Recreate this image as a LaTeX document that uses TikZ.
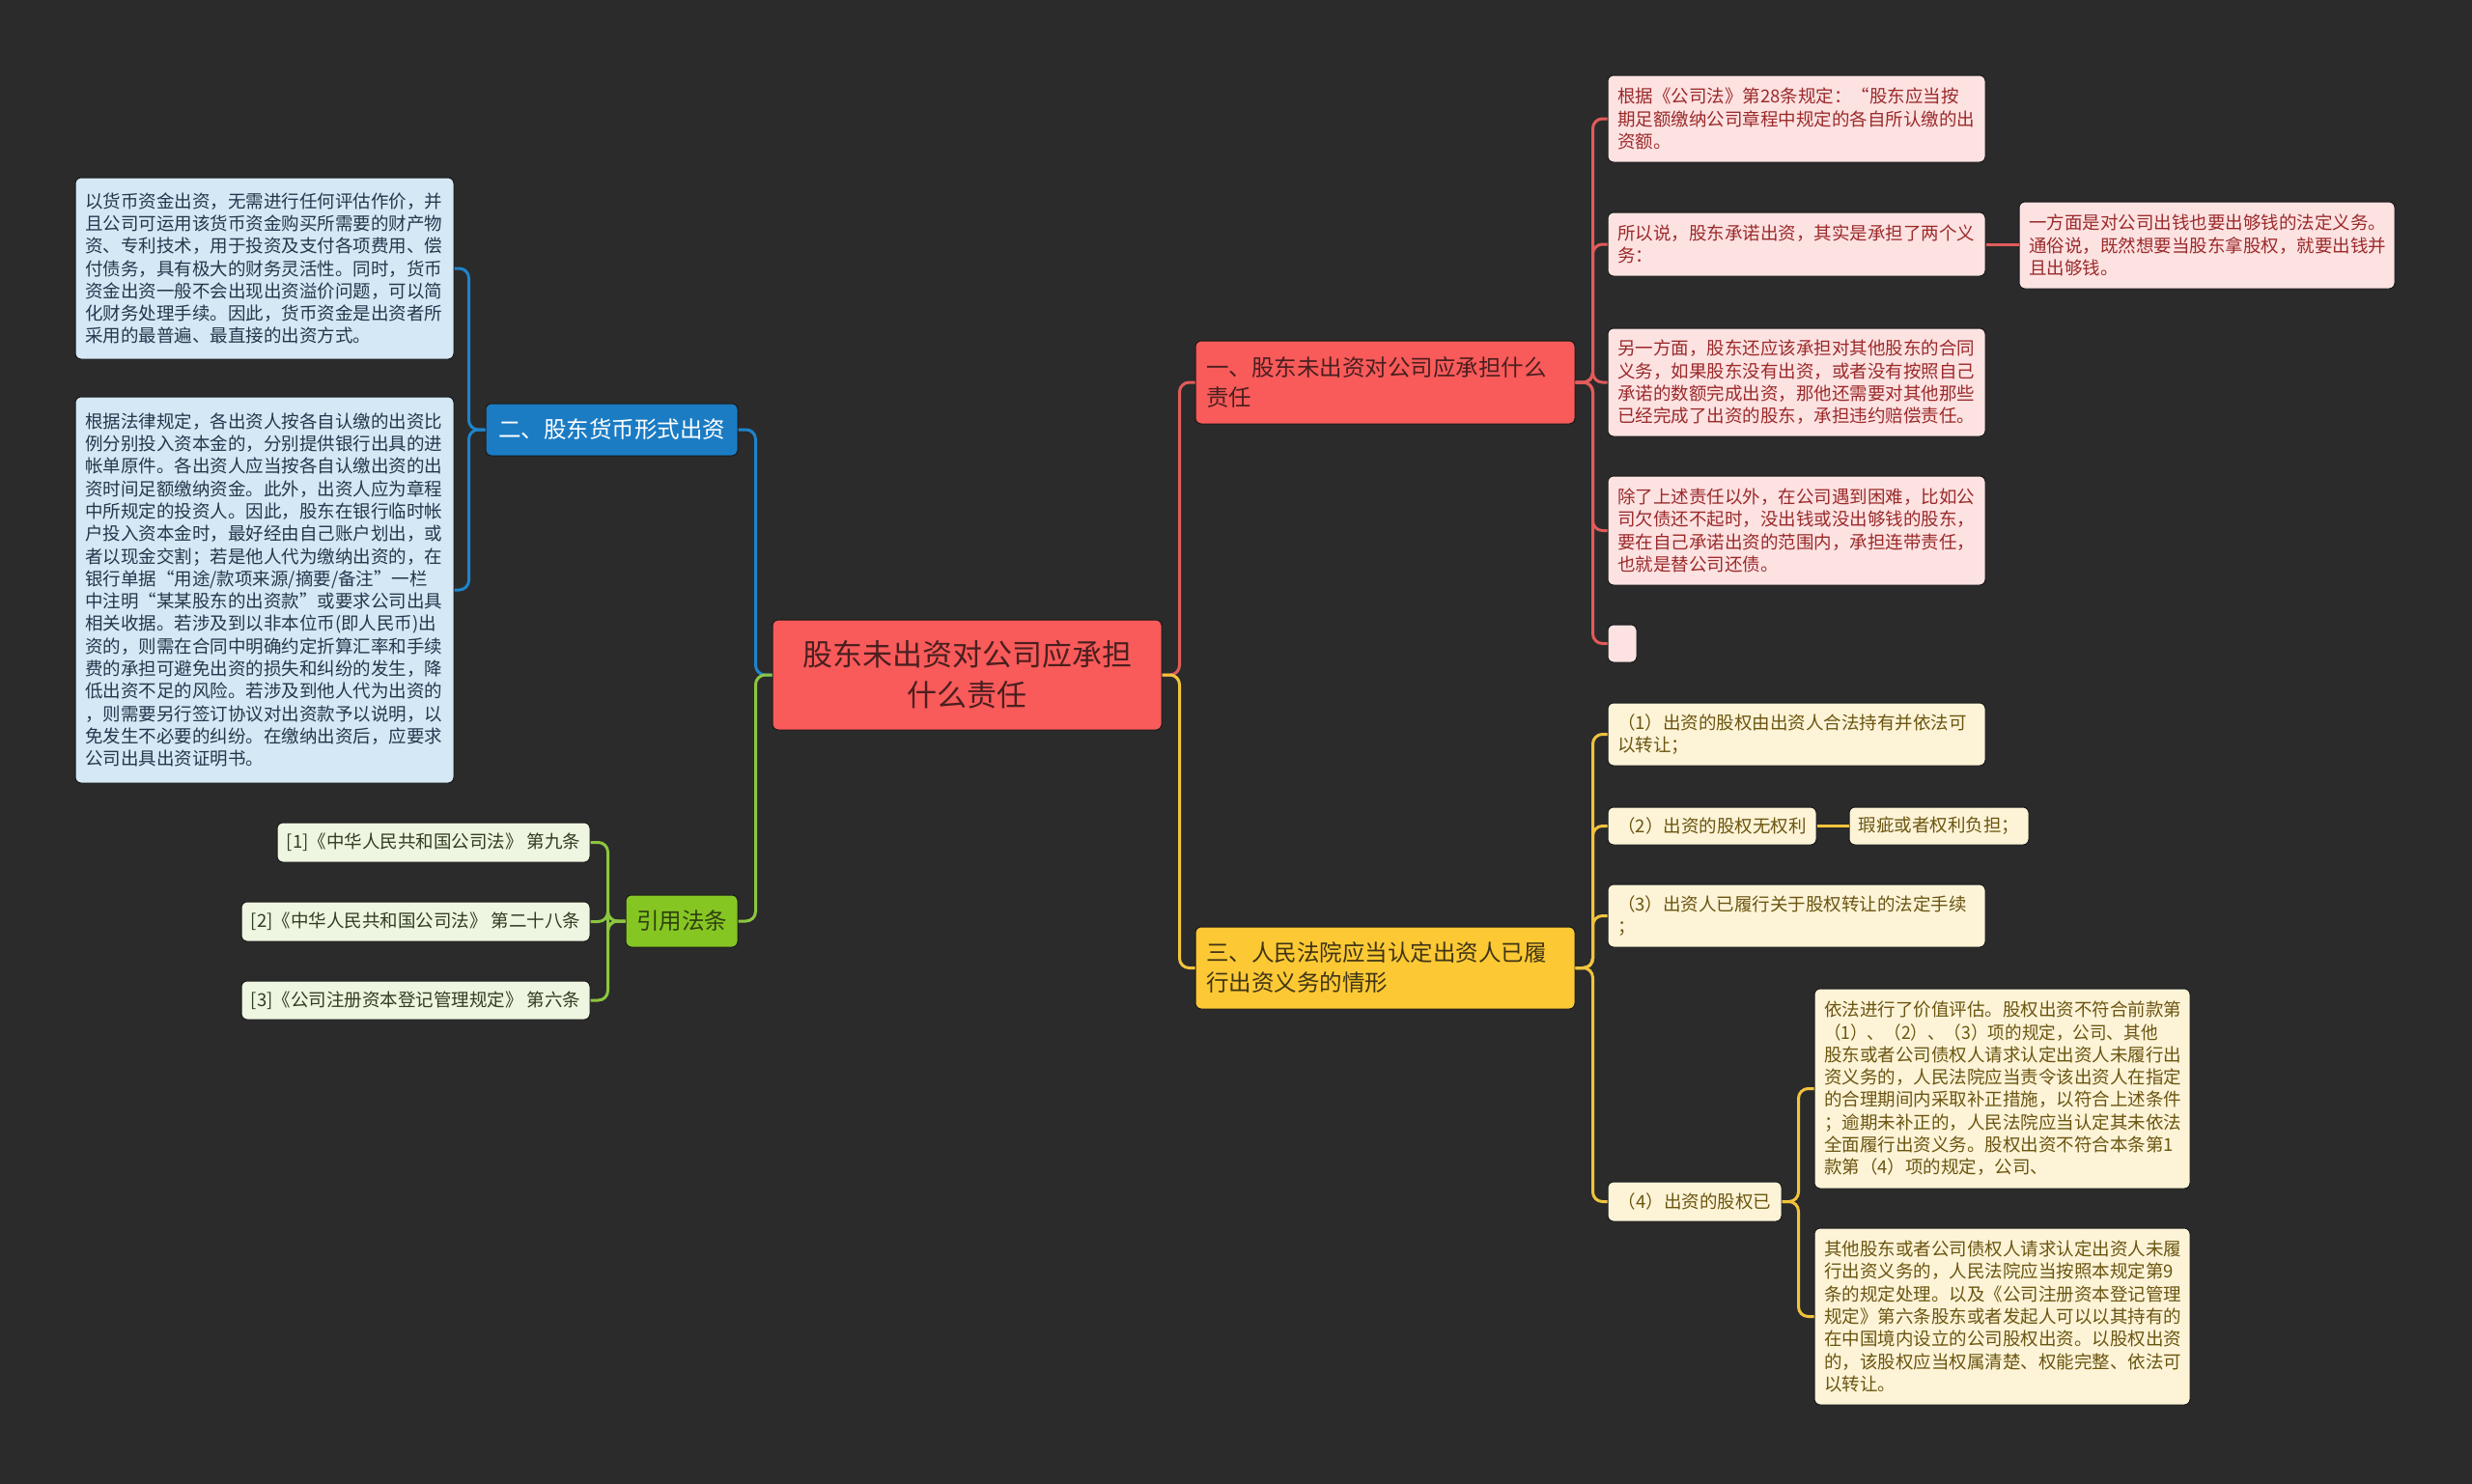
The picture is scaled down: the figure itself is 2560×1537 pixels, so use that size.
\documentclass[tikz,border=0pt]{standalone}
\usepackage{fontspec}
\setmainfont{Noto Sans CJK SC}
\definecolor{bg}{HTML}{2B2B2B}
\definecolor{boxline}{HTML}{1A1A1A}
\definecolor{mainred}{HTML}{F95A5A}
\definecolor{redtxt}{HTML}{4A1F1F}
\definecolor{pinkf}{HTML}{FDE2E2}
\definecolor{pinkt}{HTML}{9B2A2A}
\definecolor{bluef}{HTML}{1B7CC4}
\definecolor{lbluef}{HTML}{D5E8F5}
\definecolor{lbluet}{HTML}{23384D}
\definecolor{grnf}{HTML}{86C623}
\definecolor{grnt}{HTML}{2F4010}
\definecolor{lgrnf}{HTML}{EEF5E0}
\definecolor{lgrnt}{HTML}{303D22}
\definecolor{yelf}{HTML}{FCC935}
\definecolor{yelt}{HTML}{3F3414}
\definecolor{creamf}{HTML}{FDF4D8}
\definecolor{creamt}{HTML}{6B5510}
\definecolor{redc}{HTML}{E25B5B}
\definecolor{yelc}{HTML}{F2C43D}
\definecolor{bluec}{HTML}{1E84CC}
\definecolor{grnc}{HTML}{8CC63F}
\begin{document}
\begin{tikzpicture}[x=1pt,y=-1pt,
  box/.style={draw=boxline, line width=1pt, rounded corners=6pt, inner xsep=10pt, inner ysep=0pt, font=\fontsize{18.5}{23.3}\selectfont},
  bigbox/.style={box, font=\fontsize{23.5}{31}\selectfont, inner xsep=11pt},
  redleaf/.style={box, fill=pinkf, text=pinkt},
  yelleaf/.style={box, fill=creamf, text=creamt},
  blueleaf/.style={box, fill=lbluef, text=lbluet},
  grnleaf/.style={box, fill=lgrnf, text=lgrnt},
  conn/.style={line width=3pt, rounded corners=10pt},
  redline/.style={conn, draw=redc},
  yelline/.style={conn, draw=yelc},
  blueline/.style={conn, draw=bluec},
  grnline/.style={conn, draw=grnc}
]
\useasboundingbox (0,0) rectangle (2560,1537);
\fill[bg] (0,0) rectangle (2560,1537);

% central
\node[box, fill=mainred, text=redtxt, font=\fontsize{31}{42}\selectfont, minimum width=403pt, minimum height=114pt, text width=383pt, align=center] (c) at (1001.5,699) {股东未出资对公司应承担\\什么责任};

% branches
\node[bigbox, fill=mainred, text=redtxt, minimum width=393pt, minimum height=86pt, text width=371pt, align=left] (rb) at (1434.5,396) {一、股东未出资对公司应承担什么\\责任};
\node[bigbox, fill=yelf, text=yelt, minimum width=393pt, minimum height=85pt, text width=371pt, align=left] (yb) at (1434.5,1002.5) {三、人民法院应当认定出资人已履\\行出资义务的情形};
\node[bigbox, fill=bluef, text=white, minimum width=261pt, minimum height=54pt, inner xsep=8pt] (bb) at (633.5,445) {二、股东货币形式出资};
\node[bigbox, fill=grnf, text=grnt, minimum width=116pt, minimum height=54pt, inner xsep=8pt] (gb) at (706,954) {引用法条};

% red leaves
\node[redleaf, minimum width=391pt, minimum height=90pt, text width=371pt, align=left] (r1) at (1860.5,123) {根据《公司法》第28条规定：“股东应当按\\期足额缴纳公司章程中规定的各自所认缴的出\\资额。};
\node[redleaf, minimum width=391pt, minimum height=66pt, text width=371pt, align=left] (r2) at (1860.5,253) {所以说，股东承诺出资，其实是承担了两个义\\务：};
\node[redleaf, minimum width=389pt, minimum height=90pt, text width=369pt, align=left] (r2a) at (2285.5,254) {一方面是对公司出钱也要出够钱的法定义务。\\通俗说，既然想要当股东拿股权，就要出钱并\\且出够钱。};
\node[redleaf, minimum width=391pt, minimum height=112pt, text width=371pt, align=left] (r3) at (1860.5,396) {另一方面，股东还应该承担对其他股东的合同\\义务，如果股东没有出资，或者没有按照自己\\承诺的数额完成出资，那他还需要对其他那些\\已经完成了出资的股东，承担违约赔偿责任。};
\node[redleaf, minimum width=391pt, minimum height=113pt, text width=371pt, align=left] (r4) at (1860.5,549.5) {除了上述责任以外，在公司遇到困难，比如公\\司欠债还不起时，没出钱或没出够钱的股东，\\要在自己承诺出资的范围内，承担连带责任，\\也就是替公司还债。};
\node[redleaf, minimum width=30pt, minimum height=39pt, inner sep=0pt] (r5) at (1680,666.5) {};

% yellow leaves
\node[yelleaf, minimum width=391pt, minimum height=65pt, text width=371pt, align=left] (y1) at (1860.5,760.5) {（1）出资的股权由出资人合法持有并依法可\\以转让；};
\node[yelleaf, minimum width=216pt, minimum height=39pt, inner xsep=6pt] (y2) at (1773,855.5) {（2）出资的股权无权利};
\node[yelleaf, minimum width=186pt, minimum height=39pt, inner xsep=8pt] (y2a) at (2008,855.5) {瑕疵或者权利负担；};
\node[yelleaf, minimum width=391pt, minimum height=65pt, text width=371pt, align=left] (y3) at (1860.5,948.5) {（3）出资人已履行关于股权转让的法定手续\\；};
\node[yelleaf, minimum width=180pt, minimum height=41pt, inner xsep=6pt] (y4) at (1755,1244.5) {（4）出资的股权已};
\node[yelleaf, minimum width=389pt, minimum height=207pt, text width=369pt, align=left] (y4a) at (2073.5,1127.5) {依法进行了价值评估。股权出资不符合前款第\\\scalebox{0.95}[1]{（1）、（2）、（3）项的规定，公司、其他}\\股东或者公司债权人请求认定出资人未履行出\\资义务的，人民法院应当责令该出资人在指定\\的合理期间内采取补正措施，以符合上述条件\\；逾期未补正的，人民法院应当认定其未依法\\全面履行出资义务。股权出资不符合本条第1\\款第（4）项的规定，公司、};
\node[yelleaf, minimum width=389pt, minimum height=183pt, text width=369pt, align=left] (y4b) at (2073.5,1363.5) {其他股东或者公司债权人请求认定出资人未履\\行出资义务的，人民法院应当按照本规定第9\\条的规定处理。以及《公司注册资本登记管理\\规定》第六条股东或者发起人可以以其持有的\\在中国境内设立的公司股权出资。以股权出资\\的，该股权应当权属清楚、权能完整、依法可\\以转让。};

% blue leaves
\node[blueleaf, minimum width=392pt, minimum height=188pt, text width=372pt, align=left] (b1) at (274,278) {以货币资金出资，无需进行任何评估作价，并\\且公司可运用该货币资金购买所需要的财产物\\资、专利技术，用于投资及支付各项费用、偿\\付债务，具有极大的财务灵活性。同时，货币\\资金出资一般不会出现出资溢价问题，可以简\\化财务处理手续。因此，货币资金是出资者所\\采用的最普遍、最直接的出资方式。};
\node[blueleaf, minimum width=392pt, minimum height=400pt, text width=372pt, align=left] (b2) at (274,611) {根据法律规定，各出资人按各自认缴的出资比\\例分别投入资本金的，分别提供银行出具的进\\帐单原件。各出资人应当按各自认缴出资的出\\资时间足额缴纳资金。此外，出资人应为章程\\中所规定的投资人。因此，股东在银行临时帐\\户投入资本金时，最好经由自己账户划出，或\\者以现金交割；若是他人代为缴纳出资的，在\\银行单据“用途/款项来源/摘要/备注”一栏\\中注明“某某股东的出资款”或要求公司出具\\相关收据。若涉及到以非本位币(即人民币)出\\资的，则需在合同中明确约定折算汇率和手续\\费的承担可避免出资的损失和纠纷的发生，降\\低出资不足的风险。若涉及到他人代为出资的\\，则需要另行签订协议对出资款予以说明，以\\免发生不必要的纠纷。在缴纳出资后，应要求\\公司出具出资证明书。};

% green leaves
\node[grnleaf, minimum width=324pt, minimum height=41pt, inner xsep=6pt] (g1) at (449,872.5) {[1]《中华人民共和国公司法》 第九条};
\node[grnleaf, minimum width=361pt, minimum height=41pt, inner xsep=6pt] (g2) at (430.5,954.5) {[2]《中华人民共和国公司法》 第二十八条};
\node[grnleaf, minimum width=361pt, minimum height=40pt, inner xsep=6pt] (g3) at (430.5,1036) {[3]《公司注册资本登记管理规定》 第六条};

% connectors
\draw[redline] (c.east) -- ++(18,0) |- (rb.west);
\draw[yelline] (c.east) -- ++(18,0) |- (yb.west);
\draw[blueline] (c.west) -- ++(-17,0) |- (bb.east);
\draw[grnline] (c.west) -- ++(-17,0) |- (gb.east);
\foreach \n in {r1,r2,r3,r4,r5} \draw[redline] (rb.east) -- ++(18,0) |- (\n.west);
\draw[redline] (r2.east) -- (r2.east -| r2a.west);
\foreach \n in {y1,y2,y3,y4} \draw[yelline] (yb.east) -- ++(18,0) |- (\n.west);
\draw[yelline] (y2.east) -- (y2a.west);
\foreach \n in {y4a,y4b} \draw[yelline] (y4.east) -- ++(17,0) |- (\n.west);
\foreach \n in {b1,b2} \draw[blueline] (bb.west) -- ++(-17,0) |- (\n.east);
\foreach \n in {g1,g2,g3} \draw[grnline] (gb.west) -- ++(-18,0) |- (\n.east);
\end{tikzpicture}
\end{document}
